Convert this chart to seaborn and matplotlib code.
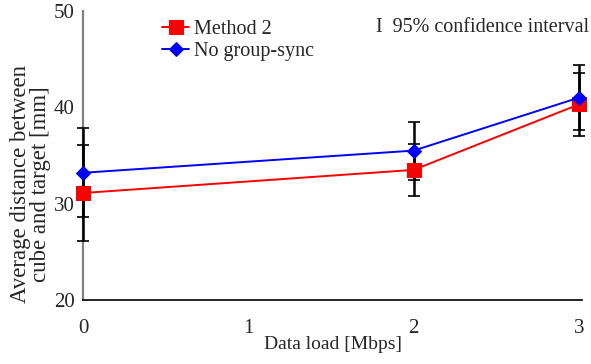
import pandas as pd
import seaborn as sns
import matplotlib.pyplot as plt

# data
data_load = [0, 2, 3]
method2 = [31.1, 33.5, 40.3]
method2_err = [5.0, 2.7, 3.3]
no_sync = [33.2, 35.5, 41.0]
no_sync_err = [4.6, 3.0, 3.4]
series_names = ['Method 2', 'No group-sync']

df = pd.DataFrame({
    'load': data_load * 2,
    'dist': method2 + no_sync,
    'err': method2_err + no_sync_err,
    'series': [series_names[0]] * 3 + [series_names[1]] * 3,
})

sns.set_style('white')
plt.rcParams['font.family'] = ['Liberation Serif', 'DejaVu Serif']

fig, ax = plt.subplots(figsize=(5.91, 3.64), dpi=100)
fig.subplots_adjust(left=0.1404, right=0.9853, bottom=0.176, top=0.97)

colors = {'Method 2': '#ff0000', 'No group-sync': '#0000ff'}
markers = {'Method 2': 's', 'No group-sync': 'D'}
sizes = {'Method 2': 9.5, 'No group-sync': 7.5}

# error bars first so the markers sit on top
for name, grp in df.groupby('series', sort=False):
    eb = ax.errorbar(grp['load'], grp['dist'], yerr=grp['err'], fmt='none',
                     ecolor='black', elinewidth=1.8, capsize=4, capthick=1.2, zorder=2.8)
    for art in eb.lines[1] + eb.lines[2]:
        art.set_clip_on(False)

for name, grp in df.groupby('series', sort=False):
    sns.lineplot(data=grp, x='load', y='dist', ax=ax, color=colors[name],
                 marker=markers[name], markersize=sizes[name],
                 markeredgecolor=colors[name], linewidth=1.4, label=name,
                 zorder=3, clip_on=False)

ax.set_xlim(0, 3.02)
ax.set_ylim(20, 50)
ax.set_xticks([0, 1, 2, 3])
ax.set_yticks([20, 30, 40, 50])
ax.tick_params(axis='both', direction='in', length=5, width=1, labelsize=15, color='black')
ax.tick_params(axis='x', pad=14)
ax.tick_params(axis='y', pad=6)
ax.spines['top'].set_visible(False)
ax.spines['right'].set_visible(False)
ax.spines['left'].set_color('#808080')
ax.spines['left'].set_linewidth(1.6)
ax.spines['bottom'].set_color('black')
ax.spines['bottom'].set_linewidth(1.2)

ax.set_xlabel('Data load [Mbps]', fontsize=14, labelpad=-2)
ax.set_ylabel('Average distance between\ncube and target [mm]', fontsize=16.5,
              linespacing=0.95)
ax.yaxis.set_label_coords(-0.064, 0.40)

leg = ax.legend(loc='upper left', bbox_to_anchor=(0.135, 1.01), frameon=False,
                fontsize=14.5, handlelength=1.3, handletextpad=0.25,
                labelspacing=0.12, borderaxespad=0.2)

fig.text(0.997, 0.925, 'I  95% confidence interval', ha='right', va='center',
         fontsize=14.5)

fig.savefig('out.png', dpi=100)
